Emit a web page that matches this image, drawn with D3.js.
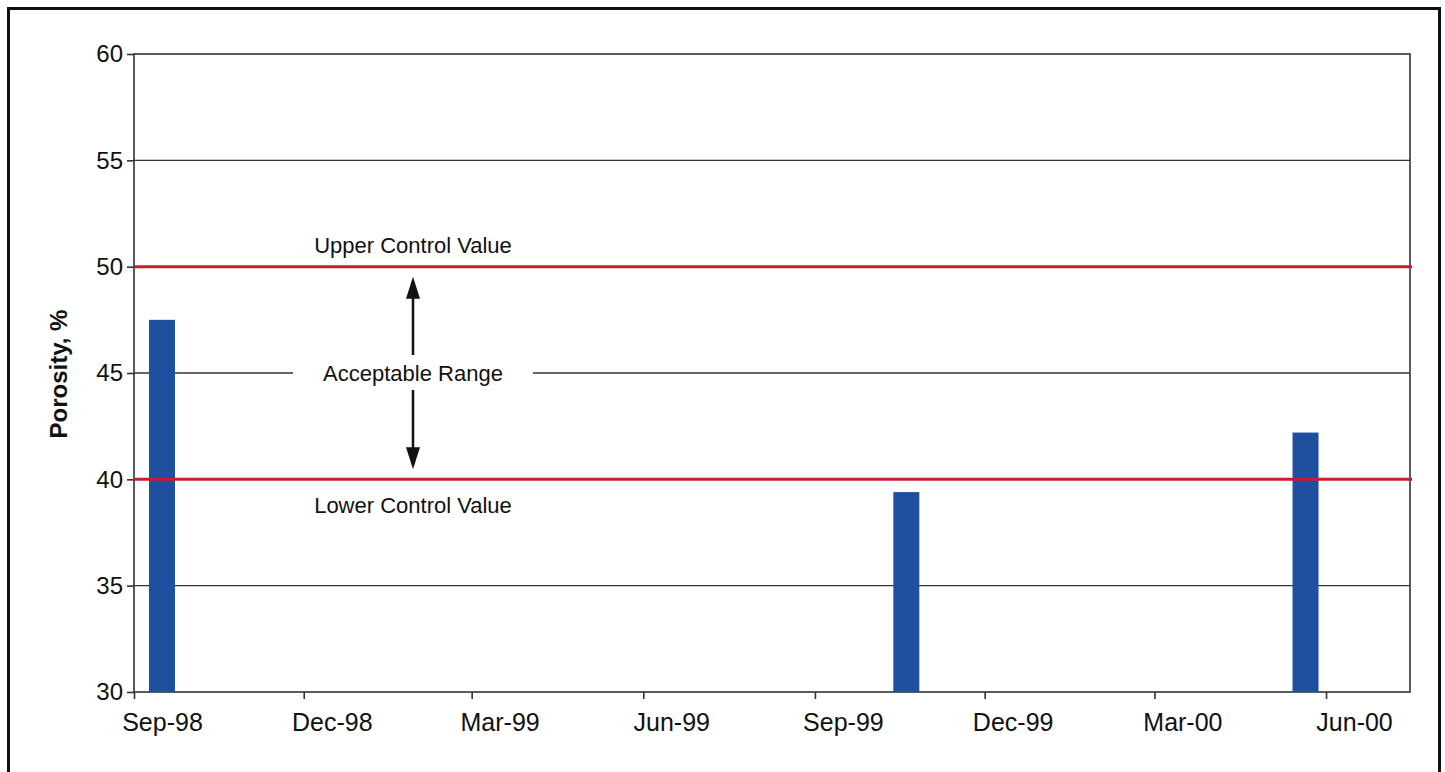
<!DOCTYPE html>
<html>
<head>
<meta charset="utf-8">
<script src="https://cdn.jsdelivr.net/npm/d3@7"></script>
<style>
  html, body { margin: 0; padding: 0; background: #fff; }
  svg { display: block; font-family: "Liberation Sans", Arial, sans-serif; }
</style>
</head>
<body>
<svg id="chart" width="1445" height="772"></svg>
<script>
// ---- data ----
const sampleDates = ["1998-09-16", "1999-10-20", "2000-05-21"];
const porosity = [47.5, 39.4, 42.2];
const yTicks = [30, 35, 40, 45, 50, 55, 60];
const xTickDates = ["1998-09-01", "1998-12-01", "1999-03-01", "1999-06-01", "1999-09-01", "1999-12-01", "2000-03-01", "2000-06-01"];
const xTickLabels = ["Sep-98", "Dec-98", "Mar-99", "Jun-99", "Sep-99", "Dec-99", "Mar-00", "Jun-00"];
const controlValues = [50, 40];
const controlLabels = ["Upper Control Value", "Lower Control Value"];
const rangeLabel = "Acceptable Range";
const yTitle = "Porosity, %";

const parse = d3.utcParse("%Y-%m-%d");
const svg = d3.select("#chart");

const pL = 134, pR = 1410, pT = 54, pB = 692;
const x = d3.scaleUtc().domain([parse("1998-09-01"), parse("2000-07-16")]).range([pL, pR]);
const y = d3.scaleLinear().domain([30, 60]).range([pB, pT]);

// outer frame
svg.append("rect").attr("x", 8.5).attr("y", 8.5).attr("width", 1431).attr("height", 800)
  .attr("fill", "none").attr("stroke", "#111").attr("stroke-width", 3);

// gridlines (45 has a gap for the label)
const gridColor = "#333";
yTicks.filter(v => v !== 30 && v !== 60 && v !== 45).forEach(v => {
  svg.append("line").attr("x1", pL).attr("x2", pR).attr("y1", y(v)).attr("y2", y(v))
    .attr("stroke", gridColor).attr("stroke-width", 1.4);
});
svg.append("line").attr("x1", pL).attr("x2", 293).attr("y1", y(45)).attr("y2", y(45))
  .attr("stroke", gridColor).attr("stroke-width", 1.4);
svg.append("line").attr("x1", 533).attr("x2", pR).attr("y1", y(45)).attr("y2", y(45))
  .attr("stroke", gridColor).attr("stroke-width", 1.4);

// plot box
svg.append("rect").attr("x", pL).attr("y", pT).attr("width", pR - pL).attr("height", pB - pT)
  .attr("fill", "none").attr("stroke", gridColor).attr("stroke-width", 1.6);

// bars
const barW = 26;
svg.selectAll("rect.bar").data(porosity).enter().append("rect").attr("class", "bar")
  .attr("x", (d, i) => x(parse(sampleDates[i])) - barW / 2)
  .attr("width", barW)
  .attr("y", d => y(d))
  .attr("height", d => y(30) - y(d))
  .attr("fill", "#1f4f9f");

// control lines
svg.selectAll("line.ctrl").data(controlValues).enter().append("line").attr("class", "ctrl")
  .attr("x1", pL).attr("x2", pR + 2)
  .attr("y1", d => y(d)).attr("y2", d => y(d))
  .attr("stroke", "#cc1a2c").attr("stroke-width", 3);

// y axis
const yAxis = d3.axisLeft(y).tickValues(yTicks).tickSize(7).tickPadding(4).tickFormat(d3.format("d"));
const gy = svg.append("g").attr("transform", `translate(${pL},0)`).call(yAxis);
gy.select(".domain").remove();
gy.selectAll(".tick line").attr("stroke", gridColor).attr("stroke-width", 1.6);
gy.selectAll(".tick text").attr("font-size", 24).attr("fill", "#111").attr("font-family", "Liberation Sans, Arial, sans-serif");

// x axis (labels centred half a month after each tick)
const xAxis = d3.axisBottom(x).tickValues(xTickDates.map(parse)).tickSize(7).tickPadding(14)
  .tickFormat((d, i) => xTickLabels[i]);
const gx = svg.append("g").attr("transform", `translate(0,${pB})`).call(xAxis);
gx.select(".domain").remove();
gx.selectAll(".tick line").attr("stroke", gridColor).attr("stroke-width", 1.6);
gx.selectAll(".tick text").attr("font-size", 25).attr("fill", "#111").attr("font-family", "Liberation Sans, Arial, sans-serif")
  .attr("dx", d => x(d3.utcDay.offset(d, 15)) - x(d));

// y title
svg.append("text").attr("transform", `translate(67,${(pT + pB) / 2 + 1}) rotate(-90)`)
  .attr("text-anchor", "middle").attr("font-size", 24).attr("font-weight", "bold").attr("fill", "#111")
  .text(yTitle);

// annotations
const ax = 413;
svg.append("text").attr("x", ax).attr("y", y(controlValues[0]) - 14).attr("text-anchor", "middle")
  .attr("font-size", 22).attr("fill", "#111").text(controlLabels[0]);
svg.append("text").attr("x", ax).attr("y", y(controlValues[1]) + 34).attr("text-anchor", "middle")
  .attr("font-size", 22).attr("fill", "#111").text(controlLabels[1]);
svg.append("text").attr("x", ax).attr("y", y(45) + 8).attr("text-anchor", "middle")
  .attr("font-size", 22).attr("fill", "#111").text(rangeLabel);

// arrows
function arrow(yFrom, yTip) {
  const dir = yTip < yFrom ? -1 : 1;
  const headLen = 22, headHalf = 7;
  svg.append("line").attr("x1", ax).attr("x2", ax).attr("y1", yFrom).attr("y2", yTip - dir * headLen + dir * 2)
    .attr("stroke", "#111").attr("stroke-width", 2.5);
  svg.append("path")
    .attr("d", `M${ax},${yTip} L${ax - headHalf},${yTip - dir * headLen} L${ax + headHalf},${yTip - dir * headLen} Z`)
    .attr("fill", "#111");
}
arrow(y(45) - 18, y(50) + 10);
arrow(y(45) + 17, y(40) - 10);
</script>
</body>
</html>
